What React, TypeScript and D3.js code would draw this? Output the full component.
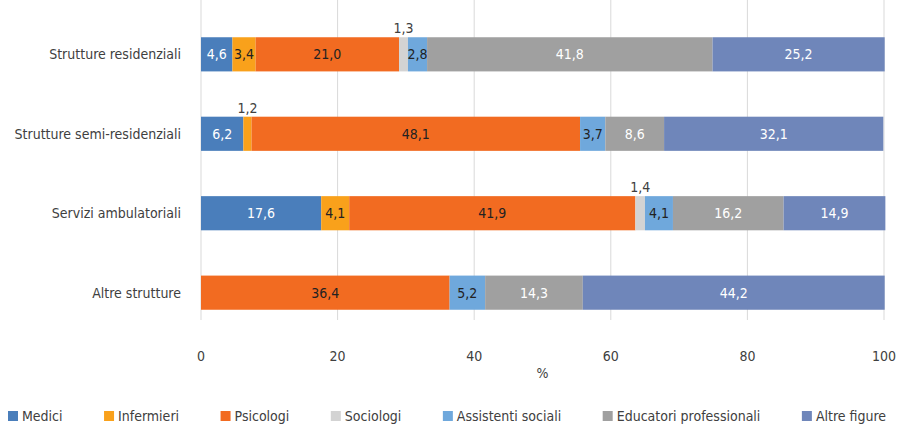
import React, { useEffect, useRef } from 'react';
import * as d3 from 'd3';

const categories = ['Strutture residenziali', 'Strutture semi-residenziali', 'Servizi ambulatoriali', 'Altre strutture'];
const seriesNames = ['Medici', 'Infermieri', 'Psicologi', 'Sociologi', 'Assistenti sociali', 'Educatori professionali', 'Altre figure'];
const seriesColors = ['#4A7EBB', '#F9A11B', '#F26B21', '#D3D3D3', '#6FA8DC', '#A0A0A0', '#6F86BA'];
const labelColors = ['#fff', '#222', '#222', '#222', '#222', '#fff', '#fff'];
// values per category, same order as seriesNames
const residenziali = [4.6, 3.4, 21.0, 1.3, 2.8, 41.8, 25.2];
const semiResidenziali = [6.2, 1.2, 48.1, 0, 3.7, 8.6, 32.1];
const ambulatoriali = [17.6, 4.1, 41.9, 1.4, 4.1, 16.2, 14.9];
const altre = [0, 0, 36.4, 0, 5.2, 14.3, 44.2];
const xTicks = [0, 20, 40, 60, 80, 100];

const FONT = '"Liberation Sans Narrow", "DejaVu Sans Condensed", "Arial Narrow", sans-serif';

const App: React.FC = () => {
	const svgRef = useRef<SVGSVGElement>(null);

	useEffect(() => {
		document.body.style.margin = '0';
		if (!svgRef.current) return;
		const width = 898;
		const height = 427;
		const margin = { top: 15, left: 201, right: 14, bottom: 332 };

		const rows = [residenziali, semiResidenziali, ambulatoriali, altre];

		const x = d3.scaleLinear().domain([0, 100]).range([margin.left, width - margin.right]);
		const y = d3.scaleBand().domain(categories).range([margin.top, margin.bottom]).paddingInner(0.57).paddingOuter(0.28);

		const svg = d3.select(svgRef.current).attr('width', width).attr('height', height);
		svg.selectAll('*').remove();
		svg.append('rect').attr('width', width).attr('height', height).attr('fill', '#fff');

		// gridlines
		svg.append('g').selectAll('line').data(xTicks).join('line')
			.attr('x1', d => x(d)).attr('x2', d => x(d))
			.attr('y1', 0).attr('y2', margin.bottom - 12)
			.attr('stroke', '#D9D9D9').attr('stroke-width', 1);

		// tick labels
		svg.append('g').selectAll('text').data(xTicks).join('text')
			.attr('x', d => x(d)).attr('y', 361)
			.attr('text-anchor', 'middle')
			.attr('font-family', FONT).attr('font-size', 14).attr('fill', '#404040')
			.text(d => d);

		svg.append('text').attr('x', x(50)).attr('y', 378).attr('text-anchor', 'middle')
			.attr('font-family', FONT).attr('font-size', 14).attr('fill', '#404040').text('%');

		// category labels
		svg.append('g').selectAll('text').data(categories).join('text')
			.attr('x', margin.left - 20).attr('y', d => (y(d) as number) + y.bandwidth() / 2)
			.attr('dy', '0.35em').attr('text-anchor', 'end')
			.attr('font-family', FONT).attr('font-size', 14).attr('fill', '#404040')
			.text(d => d);

		const fmt = (v: number) => v.toFixed(1).replace('.', ',');

		rows.forEach((vals, ri) => {
			const cat = categories[ri];
			const y0 = y(cat) as number;
			let acc = 0;
			vals.forEach((v, si) => {
				const start = acc;
				acc += v;
				if (v <= 0) return;
				svg.append('rect')
					.attr('x', x(start)).attr('width', x(acc) - x(start))
					.attr('y', y0).attr('height', y.bandwidth())
					.attr('fill', seriesColors[si]);
				const small = v < 2;
				svg.append('text')
					.attr('x', (x(start) + x(acc)) / 2)
					.attr('y', small ? y0 - 9 : y0 + y.bandwidth() / 2)
					.attr('dy', '0.35em').attr('text-anchor', 'middle')
					.attr('font-family', FONT).attr('font-size', 14)
					.attr('fill', small ? '#404040' : labelColors[si])
					.text(fmt(v));
			});
		});

		// legend
		const lg = svg.append('g');
		let lx = 8;
		seriesNames.forEach((name, i) => {
			lg.append('rect').attr('x', lx).attr('y', 411).attr('width', 10).attr('height', 10).attr('fill', seriesColors[i]);
			const t = lg.append('text').attr('x', lx + 14).attr('y', 421)
				.attr('font-family', FONT).attr('font-size', 14).attr('fill', '#404040').text(name);
			const w = (t.node() as SVGTextElement).getComputedTextLength();
			lx += 14 + w + 41.5;
		});
	}, []);

	return <svg ref={svgRef} style={{ display: 'block' }}></svg>;
};

export default App;
